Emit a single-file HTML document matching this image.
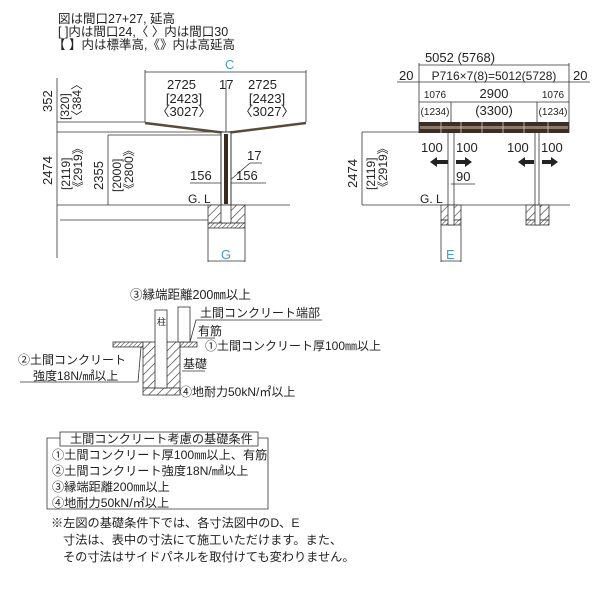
<!DOCTYPE html>
<html><head><meta charset="utf-8"><style>
body{margin:0;background:#fff}
svg{display:block}
text{font-family:"Liberation Sans","Noto Sans CJK JP",sans-serif;fill:#222}
</style></head><body>
<svg width="600" height="600" viewBox="0 0 600 600">
<defs>
<pattern id="h" width="6" height="6" patternUnits="userSpaceOnUse" patternTransform="rotate(45)">
<rect width="6" height="6" fill="#fff"/><line x1="0" y1="0" x2="0" y2="6" stroke="#333" stroke-width="1.2"/></pattern>
<pattern id="h2" width="3" height="3" patternUnits="userSpaceOnUse" patternTransform="rotate(45)">
<rect width="3" height="3" fill="#fff"/><line x1="0" y1="0" x2="0" y2="3" stroke="#333" stroke-width="1"/></pattern>
</defs>
<g font-size="12.5">
<text x="58" y="23">図は間口27+27, 延高</text>
<text x="58" y="36">[ ]内は間口24,〈 〉内は間口30</text>
<text x="53" y="49">【 】内は標準高,《》内は高延高</text>
</g>
<g stroke="#333" stroke-width="0.8" fill="none">
<line x1="145" y1="72" x2="306" y2="72"/>
<line x1="145" y1="70" x2="145" y2="122"/><line x1="306" y1="70" x2="306" y2="122"/>
<line x1="226" y1="80" x2="226" y2="185"/>
<line x1="57" y1="78" x2="57" y2="258"/>
<line x1="57" y1="122" x2="145" y2="122"/>
<line x1="57" y1="132" x2="221" y2="132"/>
<line x1="108" y1="135" x2="221" y2="135"/>
<line x1="108" y1="135" x2="108" y2="205"/>
<line x1="57" y1="205" x2="290" y2="205"/>
<line x1="60" y1="220" x2="208" y2="220"/>
<line x1="190" y1="183" x2="266" y2="183"/>
<polyline points="228,182 250,163 262,163"/>
<line x1="208" y1="228" x2="208" y2="262"/><line x1="245" y1="228" x2="245" y2="262"/>
<line x1="208" y1="261" x2="245" y2="261"/>
</g>
<polyline points="145,123 226,133 306,123" stroke="#5a4a3a" stroke-width="2.5" fill="none"/>
<rect x="221" y="132" width="10" height="73" fill="#fff" stroke="#333" stroke-width="1"/>
<rect x="224" y="134" width="4" height="70" fill="#3a2a20"/>
<rect x="208" y="205" width="37" height="18" fill="url(#h)" stroke="#333" stroke-width="0.8"/>
<rect x="208" y="223" width="37" height="5" fill="url(#h2)" stroke="#333" stroke-width="0.8"/>
<rect x="221" y="205" width="10" height="18" fill="#fff" stroke="#333" stroke-width="0.8"/>
<g font-size="13">
<text x="225" y="69" style="fill:#4a9ac8">C</text>
<text x="167" y="89">2725</text><text x="219" y="89">17</text><text x="248" y="89">2725</text>
<text x="184" y="103" text-anchor="middle">[2423]</text><text x="267" y="103" text-anchor="middle">[2423]</text>
<text x="184" y="116" text-anchor="middle">〈3027〉</text><text x="267" y="116" text-anchor="middle">〈3027〉</text>
<text x="190" y="180">156</text><text x="236" y="180">156</text>
<text x="247" y="160">17</text>
<text x="188" y="203" font-size="12">G. L</text>
<text x="221" y="259" style="fill:#4a9ac8">G</text>
<text transform="translate(52,112) rotate(-90)">352</text>
<text transform="translate(69,120) rotate(-90)" font-size="12">[320]</text>
<text transform="translate(81,122) rotate(-90)" font-size="12">〈384〉</text>
<text transform="translate(52,185) rotate(-90)">2474</text>
<text transform="translate(70,190) rotate(-90)" font-size="12">[2119]</text>
<text transform="translate(82,193) rotate(-90)" font-size="12">《2919》</text>
<text transform="translate(103,190) rotate(-90)">2355</text>
<text transform="translate(121,192) rotate(-90)" font-size="12">[2000]</text>
<text transform="translate(133,195) rotate(-90)" font-size="12">《2800》</text>
</g>
<g stroke="#333" stroke-width="0.8" fill="none">
<line x1="419" y1="65" x2="569" y2="65"/>
<line x1="397" y1="82" x2="590" y2="82"/>
<line x1="419" y1="63" x2="419" y2="133"/><line x1="569" y1="63" x2="569" y2="133"/>
<line x1="419" y1="102" x2="569" y2="102"/>
<line x1="451" y1="102" x2="451" y2="122"/><line x1="537" y1="102" x2="537" y2="122"/>
<line x1="362" y1="132" x2="362" y2="205"/>
<line x1="362" y1="132" x2="419" y2="132"/>
<line x1="362" y1="205" x2="570" y2="205"/>
<line x1="451" y1="184" x2="475" y2="184"/>
<line x1="441" y1="225" x2="441" y2="262"/><line x1="461" y1="225" x2="461" y2="262"/>
<line x1="441" y1="261" x2="461" y2="261"/>
<line x1="448" y1="133" x2="448" y2="205"/><line x1="454" y1="133" x2="454" y2="205"/>
<line x1="535" y1="133" x2="535" y2="205"/><line x1="539" y1="133" x2="539" y2="205"/>
</g>
<rect x="419" y="122" width="150" height="11" fill="#3a2e26"/>
<rect x="420" y="126" width="148" height="3" fill="#8a7a6a"/>
<g stroke="#ccc" stroke-width="0.8">
<line x1="441" y1="122" x2="441" y2="133"/><line x1="461" y1="122" x2="461" y2="133"/><line x1="482" y1="122" x2="482" y2="133"/><line x1="503" y1="122" x2="503" y2="133"/><line x1="524" y1="122" x2="524" y2="133"/><line x1="548" y1="122" x2="548" y2="133"/>
</g>
<g fill="#222">
<polygon points="430,162 437,157 437,160 448,160 448,164 437,164 437,167"/>
<polygon points="472,162 465,157 465,160 456,160 456,164 465,164 465,167"/>
<polygon points="518,162 525,157 525,160 534,160 534,164 525,164 525,167"/>
<polygon points="558,162 551,157 551,160 542,160 542,164 551,164 551,167"/>
</g>
<rect x="441" y="205" width="20" height="15" fill="url(#h)" stroke="#333" stroke-width="0.8"/>
<rect x="441" y="220" width="20" height="5" fill="url(#h2)" stroke="#333" stroke-width="0.8"/>
<rect x="448" y="205" width="6" height="20" fill="#fff" stroke="#333" stroke-width="0.8"/>
<rect x="526" y="205" width="23" height="15" fill="url(#h)" stroke="#333" stroke-width="0.8"/>
<rect x="526" y="220" width="23" height="5" fill="url(#h2)" stroke="#333" stroke-width="0.8"/>
<rect x="535" y="205" width="5" height="20" fill="#fff" stroke="#333" stroke-width="0.8"/>
<g font-size="13">
<text x="460" y="62" text-anchor="middle">5052 (5768)</text>
<text x="399" y="80">20</text><text x="573" y="80">20</text>
<text x="494" y="80" text-anchor="middle" font-size="12">P716×7(8)=5012(5728)</text>
<text x="435" y="98" text-anchor="middle" font-size="10">1076</text>
<text x="494" y="98" text-anchor="middle">2900</text>
<text x="553" y="98" text-anchor="middle" font-size="10">1076</text>
<text x="435" y="115" text-anchor="middle" font-size="10">(1234)</text>
<text x="494" y="115" text-anchor="middle">(3300)</text>
<text x="553" y="115" text-anchor="middle" font-size="10">(1234)</text>
<text x="421" y="152">100</text><text x="456" y="152">100</text>
<text x="507" y="152">100</text><text x="541" y="152">100</text>
<text x="456" y="181">90</text>
<text x="420" y="203" font-size="12">G. L</text>
<text x="446" y="259" style="fill:#4a9ac8">E</text>
<text transform="translate(357,188) rotate(-90)">2474</text>
<text transform="translate(375,190) rotate(-90)" font-size="12">[2119]</text>
<text transform="translate(387,193) rotate(-90)" font-size="12">《2919》</text>
</g>
<rect x="113" y="342" width="30" height="5" fill="url(#h2)" stroke="#333" stroke-width="0.8"/>
<rect x="180" y="342" width="17" height="5" fill="url(#h2)" stroke="#333" stroke-width="0.8"/>
<rect x="143" y="342" width="37" height="46" fill="url(#h)" stroke="#333" stroke-width="0.8"/>
<rect x="143" y="388" width="37" height="7" fill="url(#h)" stroke="#333" stroke-width="0.8"/>
<rect x="155" y="310" width="12" height="78" fill="#fff" stroke="#333" stroke-width="0.8"/>
<rect x="178" y="307" width="12" height="35" fill="#fff" stroke="#333" stroke-width="0.8"/>
<g stroke="#333" stroke-width="0.8" fill="none">
<polyline points="190,342 196,320 322,320"/>
<line x1="197" y1="338" x2="215" y2="338"/>
<polyline points="20,382 138,382 141,347"/>
<line x1="182" y1="371" x2="205" y2="371"/>
</g>
<g font-size="12">
<text x="130" y="299" font-size="12.5">③縁端距離200㎜以上</text>
<text x="157" y="325" font-size="9">柱</text>
<text x="200" y="317">土間コンクリート端部</text>
<text x="198" y="335">有筋</text>
<text x="205" y="350">①土間コンクリート厚100㎜以上</text>
<text x="18" y="364">②土間コンクリート</text>
<text x="33" y="380">強度18N/㎟以上</text>
<text x="183" y="368">基礎</text>
<text x="180" y="396">④地耐力50kN/㎡以上</text>
</g>
<polyline points="60,438 47,438 47,509 268,509 268,438 258,438" stroke="#333" stroke-width="0.8" fill="none"/>
<rect x="60" y="432" width="198" height="14" fill="#fff" stroke="#333" stroke-width="0.8"/>
<g font-size="12.2">
<text x="70" y="443">土間コンクリート考慮の基礎条件</text>
<text x="52" y="459">①土間コンクリート厚100㎜以上、有筋</text>
<text x="52" y="475">②土間コンクリート強度18N/㎟以上</text>
<text x="52" y="491">③縁端距離200㎜以上</text>
<text x="52" y="507">④地耐力50kN/㎡以上</text>
<text x="51" y="527">※左図の基礎条件下では、各寸法図中のD、E</text>
<text x="63" y="544">寸法は、表中の寸法にて施工いただけます。また、</text>
<text x="63" y="561">その寸法はサイドパネルを取付けても変わりません。</text>
</g>
</svg>
</body></html>
